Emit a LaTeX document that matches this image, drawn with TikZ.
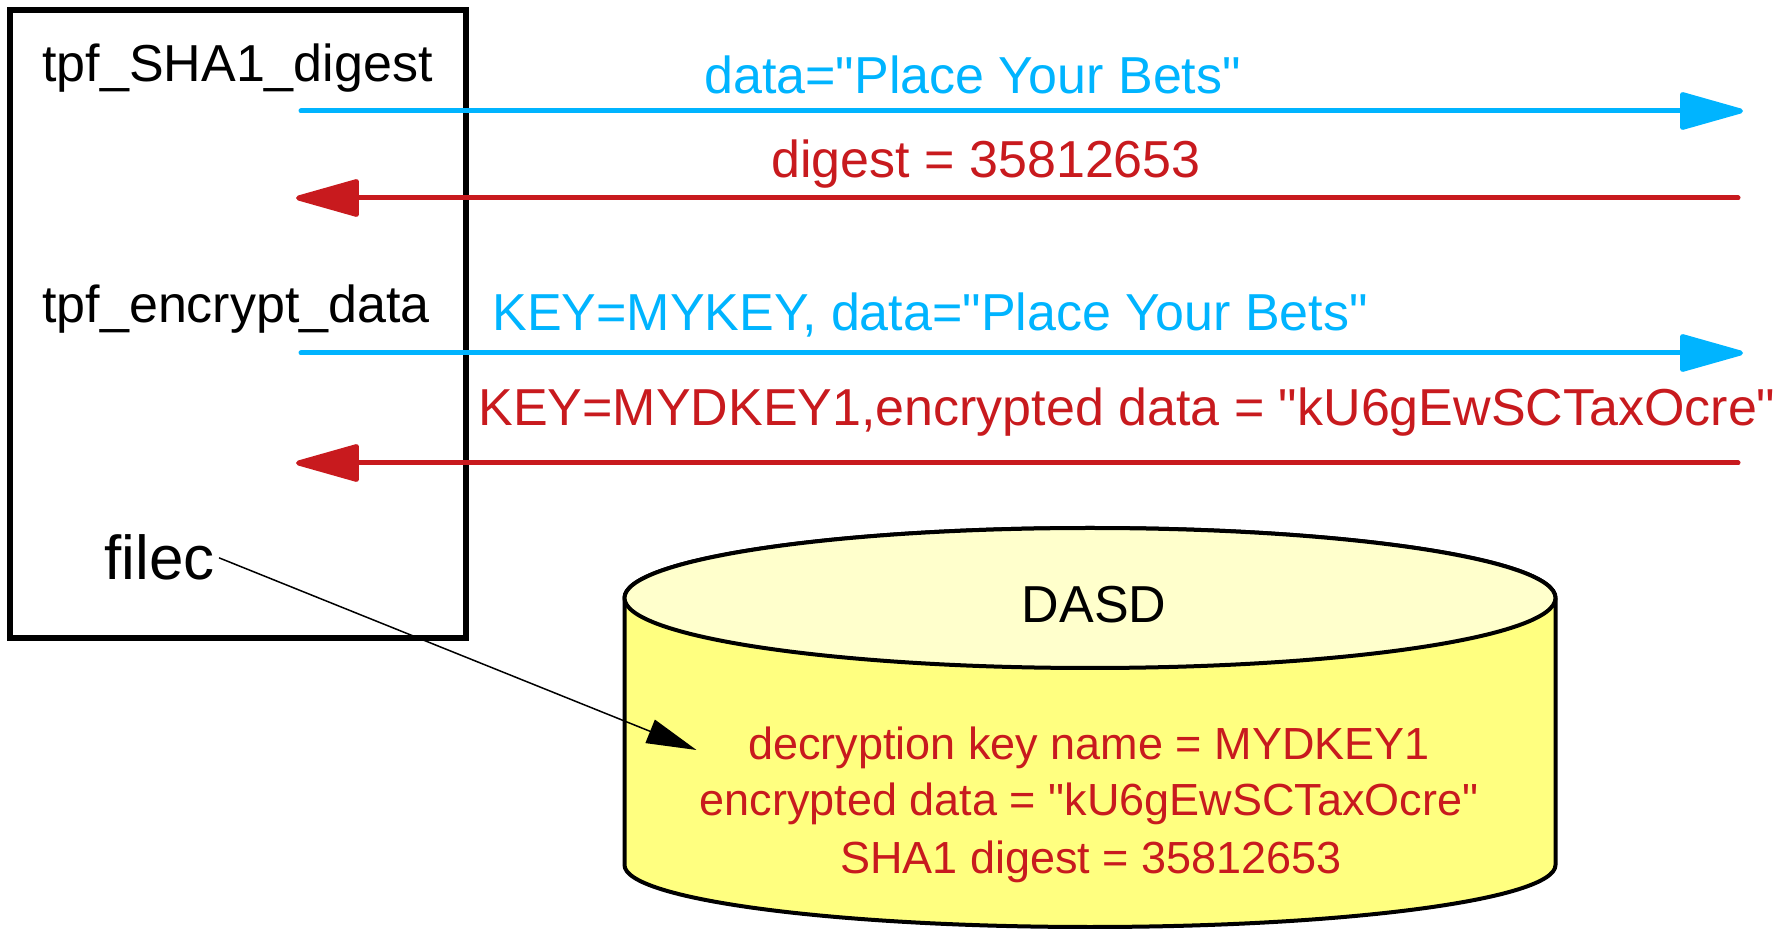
\documentclass[tikz,border=0pt]{standalone}
\usepackage{fontspec}
\setmainfont{Liberation Sans}
\usetikzlibrary{arrows.meta}
\definecolor{msgblue}{HTML}{00B4FF}
\definecolor{msgred}{HTML}{C81A1E}
\definecolor{cylbody}{HTML}{FFFF80}
\definecolor{cyltop}{HTML}{FFFFCC}
\newcommand{\qq}{\textquotedbl}
\tikzset{
  pgmtext/.style={inner sep=0pt, font=\fontsize{26}{31}\selectfont},
  bluelbl/.style={inner sep=0pt, text=msgblue, font=\fontsize{26}{31}\selectfont},
  redlbl/.style={inner sep=0pt, text=msgred, font=\fontsize{26}{31}\selectfont},
  dasdtext/.style={inner sep=0pt, text=msgred, font=\fontsize{22.5}{27}\selectfont},
  bluearrow/.style={draw=msgblue, line width=2.5pt, line cap=round, -{Triangle[length=35pt, width=19pt, round]}},
  redarrow/.style={draw=msgred, line width=2.5pt, line cap=round, -{Triangle[length=35pt, width=19pt, round]}},
  filearrow/.style={draw=black, line width=0.75pt, -{Triangle[length=25pt, width=12.5pt]}},
  pgmbox/.style={draw=black, line width=3pt},
  cylline/.style={draw=black, line width=2pt, line join=round}
}
\begin{document}
\begin{tikzpicture}[x=0.5pt, y=-0.5pt]
\useasboundingbox (0,0) rectangle (1783,929);
% program box
\draw[pgmbox] (10,10) rectangle (466,638);
\node[pgmtext, anchor=base west] (sha) at (42,82) {tpf\_SHA1\_digest};
\node[pgmtext, anchor=base west] (enc) at (42,323) {tpf\_encrypt\_data};
\node[anchor=base west, inner sep=2pt, font=\fontsize{31}{37}\selectfont] (filec) at (100,580) {filec};

% message endpoints
\coordinate (b1s) at (301,111);
\coordinate (b1e) at (1743,111);
\coordinate (r1s) at (1738,198);
\coordinate (r1e) at (296,198);
\coordinate (b2s) at (301,353);
\coordinate (b2e) at (1743,353);
\coordinate (r2s) at (1738,463);
\coordinate (r2e) at (296,463);

\draw[bluearrow] (b1s) -- (b1e);
\draw[redarrow] (r1s) -- (r1e);
\draw[bluearrow] (b2s) -- (b2e);
\draw[redarrow] (r2s) -- (r2e);

\node[bluelbl, anchor=base west] (l1) at (704,94) {data=\qq Place Your Bets\qq};
\node[redlbl, anchor=base west] (l2) at (771,178) {digest = 35812653};
\node[bluelbl, anchor=base west] (l3) at (492,331) {KEY=MYKEY, data=\qq Place Your Bets\qq};
\node[redlbl, anchor=base west] (l4) at (478,426) {KEY=MYDKEY1,encrypted data = \qq kU6gEwSCTaxOcre\qq};

% DASD cylinder
\filldraw[cylline, fill=cylbody] (624.5,598) -- (624.5,865)
  arc[start angle=180, end angle=360, x radius=232.75pt, y radius=31pt]
  -- (1555.5,598)
  arc[start angle=0, end angle=180, x radius=232.75pt, y radius=35pt] -- cycle;
\filldraw[cylline, fill=cyltop] (1090,598) ellipse[x radius=232.75pt, y radius=35pt];
\node[pgmtext, anchor=base] (dasd) at (1094,623) {DASD};
\node[dasdtext, anchor=base] (d1) at (1089,760) {decryption key name = MYDKEY1};
\node[dasdtext, anchor=base] (d2) at (1089,816) {encrypted data = \qq kU6gEwSCTaxOcre\qq};
\node[dasdtext, anchor=base] (d3) at (1091,873) {SHA1 digest = 35812653};

\coordinate (ftip) at (696.5,750);
\draw[filearrow] (filec.east) -- (ftip);
\end{tikzpicture}
\end{document}
